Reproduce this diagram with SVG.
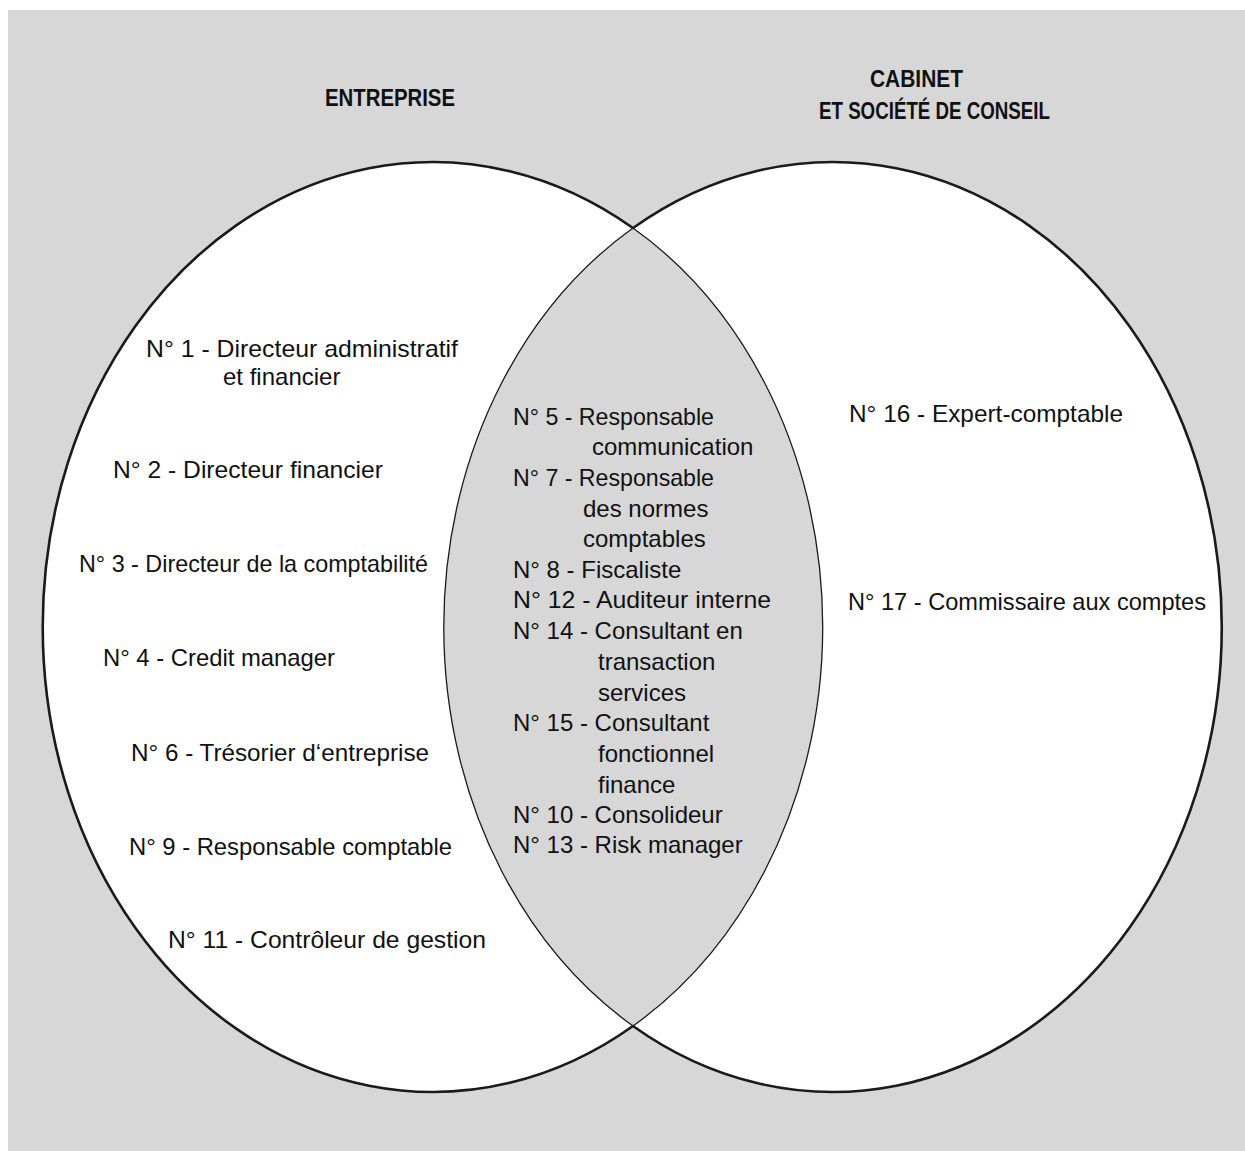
<svg xmlns="http://www.w3.org/2000/svg" width="1245" height="1151" viewBox="0 0 1245 1151">
  <style>
    .t { font-family: "Liberation Sans", Arial, sans-serif; font-size: 24px; fill: #111; }
    .h { font-family: "Liberation Sans", Arial, sans-serif; font-size: 23px; font-weight: bold; fill: #111; }
    .inner { fill: #d7d7d7; stroke: #1a1a1a; stroke-width: 1.3; }
    .outer { fill: none; stroke: #1a1a1a; stroke-width: 2.6; }
  </style>
  <rect x="0" y="0" width="1245" height="1151" fill="#ffffff"/>
  <rect x="8" y="10" width="1237" height="1141" fill="#d7d7d7"/>

  <g id="sets">
    <ellipse id="set-entreprise" cx="433" cy="627" rx="390" ry="465" fill="#ffffff"/>
    <ellipse id="set-cabinet" cx="833" cy="627" rx="389" ry="465" fill="#ffffff"/>
    <path id="intersection" class="inner" d="M633,228 A389,465 0 0,0 633,1026 A390,465 0 0,0 633,228 Z"/>
    <path id="outline" class="outer" d="M633,228 A390,465 0 1,0 633,1026 A389,465 0 1,0 633,228 Z"/>
  </g>

  <g id="connectors"></g>

  <g id="title-entreprise">
    <text class="h" x="325" y="106" textLength="130" lengthAdjust="spacingAndGlyphs">ENTREPRISE</text>
  </g>
  <g id="title-cabinet">
    <text class="h" x="870" y="87" textLength="93" lengthAdjust="spacingAndGlyphs">CABINET</text>
    <text class="h" x="819" y="119" textLength="231" lengthAdjust="spacingAndGlyphs">ET SOCIÉTÉ DE CONSEIL</text>
  </g>

  <g id="node-1">
    <text class="t" x="146" y="357" textLength="312" lengthAdjust="spacingAndGlyphs">N° 1 - Directeur administratif</text>
    <text class="t" x="223" y="385">et financier</text>
  </g>
  <g id="node-2">
    <text class="t" x="113" y="478" textLength="270" lengthAdjust="spacingAndGlyphs">N° 2 - Directeur financier</text>
  </g>
  <g id="node-3">
    <text class="t" x="79" y="572" textLength="349" lengthAdjust="spacingAndGlyphs">N° 3 -  Directeur de la comptabilité</text>
  </g>
  <g id="node-4">
    <text class="t" x="103" y="666" textLength="232" lengthAdjust="spacingAndGlyphs">N° 4 - Credit manager</text>
  </g>
  <g id="node-6">
    <text class="t" x="131" y="761" textLength="298" lengthAdjust="spacingAndGlyphs">N° 6  - Trésorier d‘entreprise</text>
  </g>
  <g id="node-9">
    <text class="t" x="129" y="855" textLength="323" lengthAdjust="spacingAndGlyphs">N° 9 - Responsable comptable</text>
  </g>
  <g id="node-11">
    <text class="t" x="168" y="948" textLength="318" lengthAdjust="spacingAndGlyphs">N° 11 - Contrôleur de gestion</text>
  </g>

  <g id="node-5">
    <text class="t" x="513" y="425" textLength="201" lengthAdjust="spacingAndGlyphs">N° 5 - Responsable</text>
    <text class="t" x="592" y="455">communication</text>
  </g>
  <g id="node-7">
    <text class="t" x="513" y="486" textLength="201" lengthAdjust="spacingAndGlyphs">N° 7 - Responsable</text>
    <text class="t" x="583" y="517">des normes</text>
    <text class="t" x="583" y="547">comptables</text>
  </g>
  <g id="node-8">
    <text class="t" x="513" y="578">N° 8 - Fiscaliste</text>
  </g>
  <g id="node-12">
    <text class="t" x="513" y="608" textLength="258" lengthAdjust="spacingAndGlyphs">N° 12 - Auditeur interne</text>
  </g>
  <g id="node-14">
    <text class="t" x="513" y="639">N° 14 - Consultant en</text>
    <text class="t" x="598" y="670">transaction</text>
    <text class="t" x="598" y="701">services</text>
  </g>
  <g id="node-15">
    <text class="t" x="513" y="731">N° 15 - Consultant</text>
    <text class="t" x="598" y="762">fonctionnel</text>
    <text class="t" x="598" y="793">finance</text>
  </g>
  <g id="node-10">
    <text class="t" x="513" y="823">N° 10 - Consolideur</text>
  </g>
  <g id="node-13">
    <text class="t" x="513" y="853">N° 13 - Risk manager</text>
  </g>

  <g id="node-16">
    <text class="t" x="849" y="422" textLength="274" lengthAdjust="spacingAndGlyphs">N° 16 - Expert-comptable</text>
  </g>
  <g id="node-17">
    <text class="t" x="848" y="610" textLength="358" lengthAdjust="spacingAndGlyphs">N° 17 - Commissaire aux comptes</text>
  </g>
</svg>
